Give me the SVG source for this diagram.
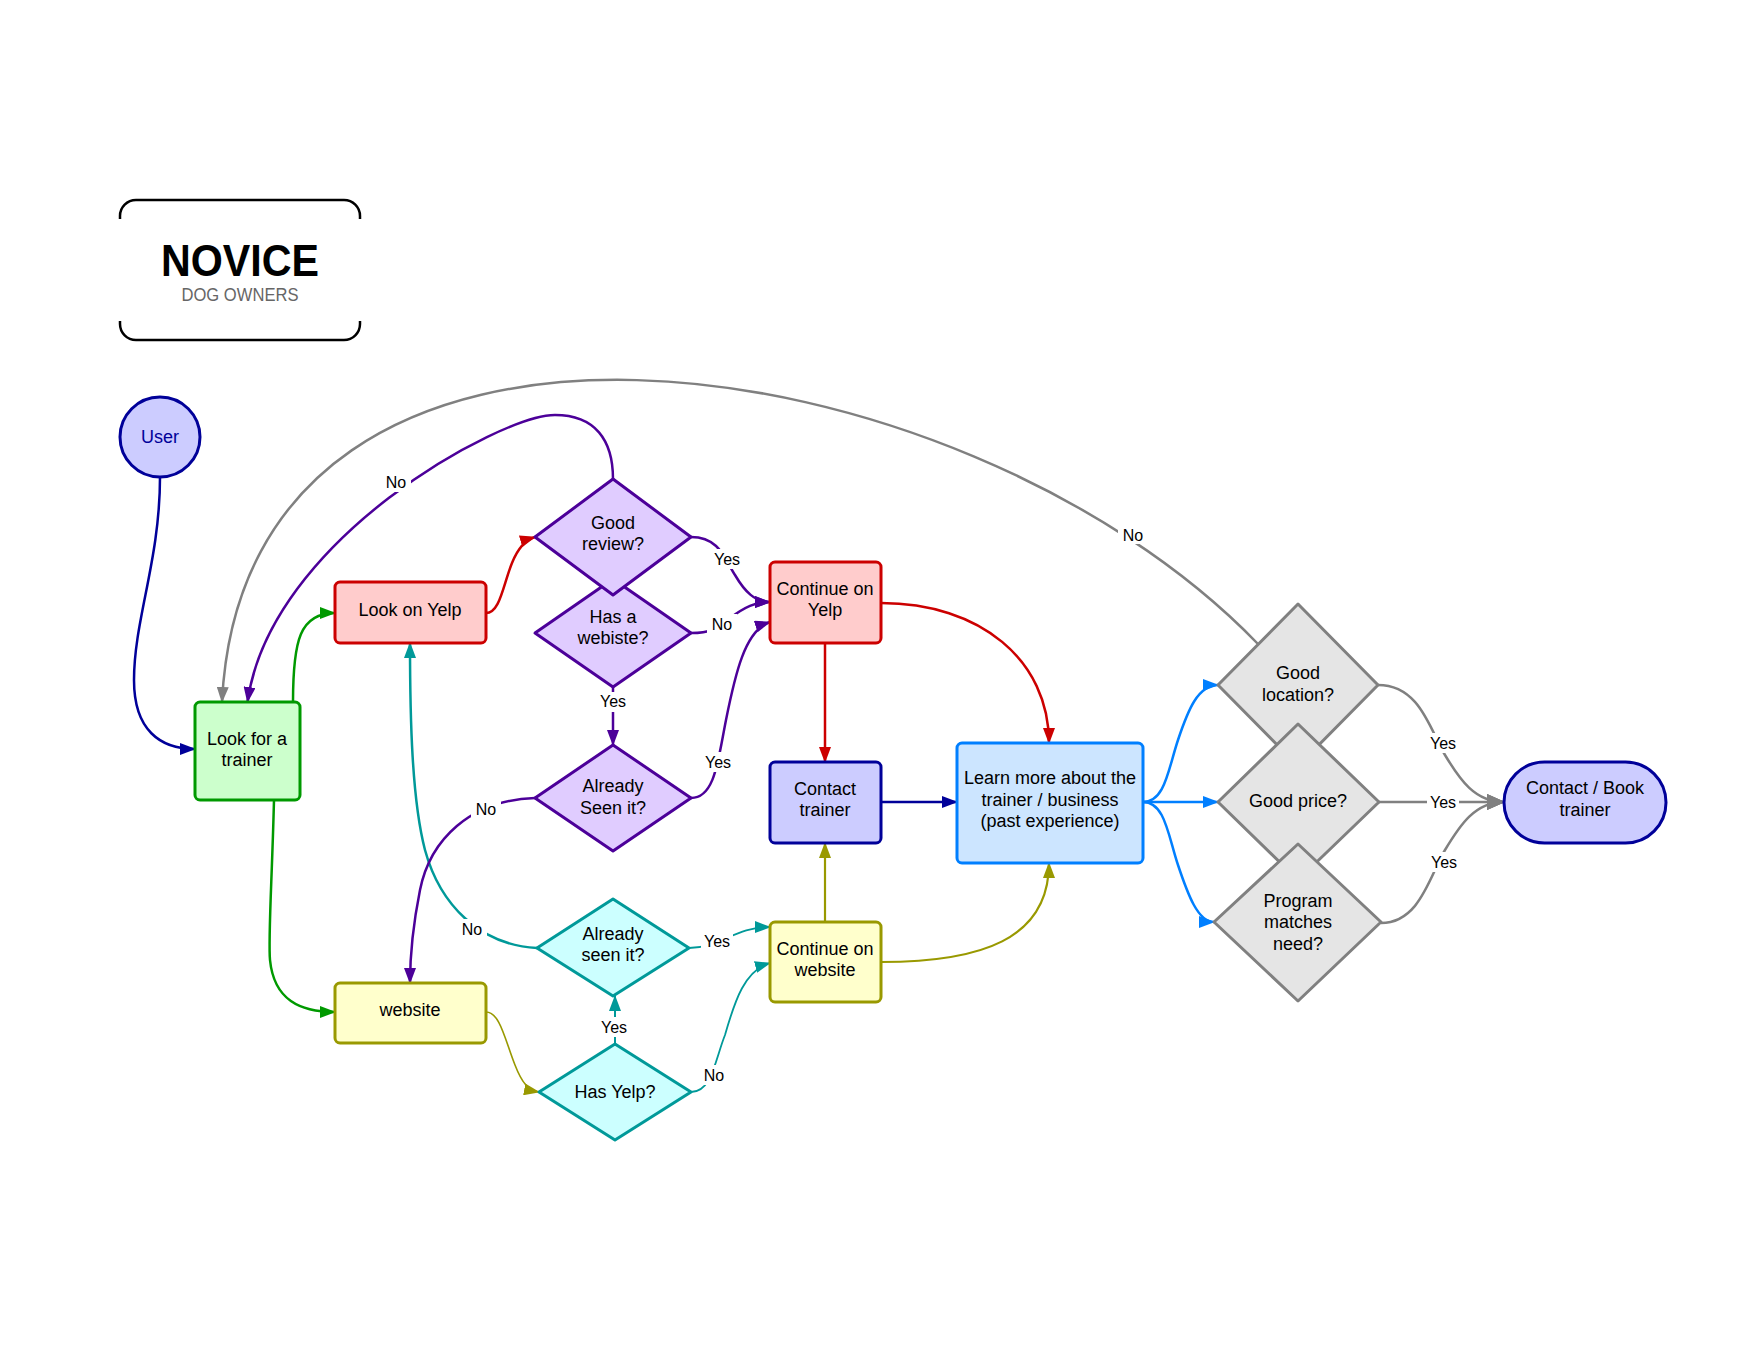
<svg xmlns="http://www.w3.org/2000/svg" width="1760" height="1360" viewBox="0 0 1760 1360">
<style>
text{font-family:"Liberation Sans",Arial,sans-serif;font-size:18px;fill:#000;text-anchor:middle}
.lbl{font-size:16px}
.node{stroke-width:3;stroke-linejoin:round}
.c{fill:none;stroke-width:2.5}
.bg{fill:#fff}
.pur{stroke:#4c0099}.red{stroke:#cc0000}.grn{stroke:#009900}.nav{stroke:#000099}
.tea{stroke:#009999}.oli{stroke:#999900}.blu{stroke:#007fff}.gry{stroke:#808080}
</style>
<defs>
<marker id="m-pur" markerUnits="userSpaceOnUse" markerWidth="16" markerHeight="12" refX="15" refY="6" orient="auto"><path d="M0,0L16,6L0,12z" fill="#4c0099"/></marker>
<marker id="m-red" markerUnits="userSpaceOnUse" markerWidth="16" markerHeight="12" refX="15" refY="6" orient="auto"><path d="M0,0L16,6L0,12z" fill="#cc0000"/></marker>
<marker id="m-grn" markerUnits="userSpaceOnUse" markerWidth="16" markerHeight="12" refX="15" refY="6" orient="auto"><path d="M0,0L16,6L0,12z" fill="#009900"/></marker>
<marker id="m-nav" markerUnits="userSpaceOnUse" markerWidth="16" markerHeight="12" refX="15" refY="6" orient="auto"><path d="M0,0L16,6L0,12z" fill="#000099"/></marker>
<marker id="m-tea" markerUnits="userSpaceOnUse" markerWidth="16" markerHeight="12" refX="15" refY="6" orient="auto"><path d="M0,0L16,6L0,12z" fill="#009999"/></marker>
<marker id="m-oli" markerUnits="userSpaceOnUse" markerWidth="16" markerHeight="12" refX="15" refY="6" orient="auto"><path d="M0,0L16,6L0,12z" fill="#999900"/></marker>
<marker id="m-blu" markerUnits="userSpaceOnUse" markerWidth="16" markerHeight="12" refX="15" refY="6" orient="auto"><path d="M0,0L16,6L0,12z" fill="#007fff"/></marker>
<marker id="m-gry" markerUnits="userSpaceOnUse" markerWidth="16" markerHeight="12" refX="15" refY="6" orient="auto"><path d="M0,0L16,6L0,12z" fill="#808080"/></marker>
<marker id="m-gryL" markerUnits="userSpaceOnUse" markerWidth="18" markerHeight="16" refX="17" refY="8" orient="auto"><path d="M0,0L18,8L0,16z" fill="#808080"/></marker>
</defs>
<rect width="1760" height="1360" fill="#fff"/>

<g id="title">
<path d="M120,219V216A16,16 0 0 1 136,200H344A16,16 0 0 1 360,216V219" fill="none" stroke="#000" stroke-width="2.5"/>
<path d="M120,321V324A16,16 0 0 0 136,340H344A16,16 0 0 0 360,324V321" fill="none" stroke="#000" stroke-width="2.5"/>
<text x="240" y="276" style="font-size:44px;font-weight:bold" textLength="158" lengthAdjust="spacingAndGlyphs">NOVICE</text>
<text x="240" y="301" style="font-size:18px;fill:#666" textLength="117" lengthAdjust="spacingAndGlyphs">DOG OWNERS</text>
</g>

<g id="connectors">
<path class="c gry" d="M1258,644C960,335 245,230 222,702" marker-end="url(#m-gry)"/>
<path class="c pur" d="M613,479C613,440 595,415 555,415C500,415 270,540 247.5,702" marker-end="url(#m-pur)"/>
<path class="c nav" d="M160,477C160,560 134,620 134,680C134,730 160,749 195,749" marker-end="url(#m-nav)"/>
<path class="c grn" d="M293,702C293,640 300,613 335,613" marker-end="url(#m-grn)"/>
<path class="c grn" d="M274,800C272,880 268,940 270,960C274,1000 300,1012 335,1012" marker-end="url(#m-grn)"/>
<path class="c tea" d="M537,948C480,945 440,905 425,850C412,800 410,720 410,643" marker-end="url(#m-tea)"/>
<path class="c pur" d="M535,798C470,800 430,840 420,890C412,930 410,960 410,983" marker-end="url(#m-pur)"/>
<path class="c oli" style="stroke-width:1.6" d="M486,1012C500,1012 505,1040 515,1065C522,1083 528,1090 539,1092" marker-end="url(#m-oli)"/>
<path class="c red" d="M486,613C500,613 503,585 512,563C518,548 525,540 535,537" marker-end="url(#m-red)"/>
<path class="c pur" d="M691,537C720,537 725,560 735,575C745,592 755,602 770,602" marker-end="url(#m-pur)"/>
<path class="c pur" d="M691,633C710,633 715,630 730,618C745,607 755,602 770,602" marker-end="url(#m-pur)"/>
<path class="c pur" d="M691,798C715,798 718,760 726,720C735,675 745,630 770,622" marker-end="url(#m-pur)"/>
<path class="c pur" d="M613,687V745" marker-end="url(#m-pur)"/>
<path class="c red" d="M825,643V762" marker-end="url(#m-red)"/>
<path class="c red" d="M881,603C980,603 1049,660 1049,743" marker-end="url(#m-red)"/>
<path class="c nav" d="M881,802H957" marker-end="url(#m-nav)"/>
<path class="c oli" style="stroke-width:2.2" d="M825,922V843" marker-end="url(#m-oli)"/>
<path class="c oli" style="stroke-width:2.2" d="M881,962C980,962 1049,940 1049,863" marker-end="url(#m-oli)"/>
<path class="c tea" style="stroke-width:1.8" d="M689,948C720,948 735,927 770,927" marker-end="url(#m-tea)"/>
<path class="c tea" style="stroke-width:1.8" d="M691,1092C712,1092 715,1060 725,1035C735,1000 745,970 770,963" marker-end="url(#m-tea)"/>
<path class="c tea" style="stroke-width:2" d="M615,1044V996" marker-end="url(#m-tea)"/>
<path class="c blu" d="M1143,802C1165,802 1168,770 1178,740C1188,710 1198,685 1218,685" marker-end="url(#m-blu)"/>
<path class="c blu" d="M1143,802H1218" marker-end="url(#m-blu)"/>
<path class="c blu" d="M1143,802C1165,802 1168,835 1178,865C1188,895 1198,922 1214,922" marker-end="url(#m-blu)"/>
<path class="c gry" d="M1378,685C1420,685 1430,730 1445,755C1460,780 1475,802 1504,802" marker-end="url(#m-gryL)"/>
<path class="c gry" d="M1379,802H1504" marker-end="url(#m-gryL)"/>
<path class="c gry" d="M1381,923C1420,923 1430,875 1445,850C1460,825 1475,802 1504,802" marker-end="url(#m-gryL)"/>
<g id="labels">
<rect class="bg" x="381" y="472" width="30" height="20"/><text class="lbl" x="396" y="488">No</text>
<rect class="bg" x="1118" y="524" width="30" height="20"/><text class="lbl" x="1133" y="541">No</text>
<rect class="bg" x="711" y="549" width="32" height="20"/><text class="lbl" x="727" y="565">Yes</text>
<rect class="bg" x="707" y="614" width="30" height="20"/><text class="lbl" x="722" y="630">No</text>
<rect class="bg" x="702" y="752" width="32" height="20"/><text class="lbl" x="718" y="768">Yes</text>
<rect class="bg" x="597" y="692" width="32" height="20"/><text class="lbl" x="613" y="707">Yes</text>
<rect class="bg" x="471" y="799" width="30" height="20"/><text class="lbl" x="486" y="815">No</text>
<rect class="bg" x="457" y="919" width="30" height="20"/><text class="lbl" x="472" y="935">No</text>
<rect class="bg" x="598" y="1017" width="32" height="20"/><text class="lbl" x="614" y="1033">Yes</text>
<rect class="bg" x="701" y="931" width="32" height="20"/><text class="lbl" x="717" y="947">Yes</text>
<rect class="bg" x="699" y="1065" width="30" height="20"/><text class="lbl" x="714" y="1081">No</text>
<rect class="bg" x="1427" y="733" width="32" height="20"/><text class="lbl" x="1443" y="749">Yes</text>
<rect class="bg" x="1427" y="792" width="32" height="20"/><text class="lbl" x="1443" y="808">Yes</text>
<rect class="bg" x="1428" y="852" width="32" height="20"/><text class="lbl" x="1444" y="868">Yes</text>
</g>
</g>

<g id="user"><circle class="node" cx="160" cy="437" r="40" fill="#ccccff" stroke="#000099"/><text x="160" y="443" style="fill:#000099">User</text></g>
<g id="look-trainer"><rect class="node" x="195" y="702" width="105" height="98" rx="5" fill="#ccffcc" stroke="#009900"/><text x="247" y="745">Look for a</text><text x="247" y="766">trainer</text></g>
<g id="look-yelp"><rect class="node" x="335" y="582" width="151" height="61" rx="5" fill="#ffcccc" stroke="#cc0000"/><text x="410" y="616">Look on Yelp</text></g>
<g id="website"><rect class="node" x="335" y="983" width="151" height="60" rx="5" fill="#ffffcc" stroke="#999900"/><text x="410" y="1016">website</text></g>
<g id="has-website"><polygon class="node" points="613,579 691,633 613,687 535,633" fill="#e0ccff" stroke="#4c0099"/><text x="613" y="623">Has a</text><text x="613" y="644">webiste?</text></g>
<g id="good-review"><polygon class="node" points="613,479 691,537 613,595 535,537" fill="#e0ccff" stroke="#4c0099"/><text x="613" y="529">Good</text><text x="613" y="550">review?</text></g>
<g id="already-seen-yelp"><polygon class="node" points="613,745 691,798 613,851 535,798" fill="#e0ccff" stroke="#4c0099"/><text x="613" y="792">Already</text><text x="613" y="814">Seen it?</text></g>
<g id="already-seen-web"><polygon class="node" points="613,899 689,948 613,996 537,948" fill="#ccffff" stroke="#009999"/><text x="613" y="940">Already</text><text x="613" y="961">seen it?</text></g>
<g id="has-yelp"><polygon class="node" points="615,1044 691,1092 615,1140 539,1092" fill="#ccffff" stroke="#009999"/><text x="615" y="1098">Has Yelp?</text></g>
<g id="continue-yelp"><rect class="node" x="770" y="562" width="111" height="81" rx="5" fill="#ffcccc" stroke="#cc0000"/><text x="825" y="595">Continue on</text><text x="825" y="616">Yelp</text></g>
<g id="contact-trainer"><rect class="node" x="770" y="762" width="111" height="81" rx="5" fill="#ccccff" stroke="#000099"/><text x="825" y="795">Contact</text><text x="825" y="816">trainer</text></g>
<g id="continue-website"><rect class="node" x="770" y="922" width="111" height="80" rx="5" fill="#ffffcc" stroke="#999900"/><text x="825" y="955">Continue on</text><text x="825" y="976">website</text></g>
<g id="learn-more"><rect class="node" x="957" y="743" width="186" height="120" rx="5" fill="#cce5ff" stroke="#007fff"/><text x="1050" y="784">Learn more about the</text><text x="1050" y="805.5">trainer / business</text><text x="1050" y="827">(past experience)</text></g>
<g id="good-location"><polygon class="node" points="1298,604 1378,685 1298,766 1218,685" fill="#e5e5e5" stroke="#808080"/><text x="1298" y="679">Good</text><text x="1298" y="701">location?</text></g>
<g id="good-price"><polygon class="node" points="1298,724 1379,802 1298,880 1218,802" fill="#e5e5e5" stroke="#808080"/><text x="1298" y="807">Good price?</text></g>
<g id="program-matches"><polygon class="node" points="1298,844 1381,922 1298,1001 1214,922" fill="#e5e5e5" stroke="#808080"/><text x="1298" y="907">Program</text><text x="1298" y="928">matches</text><text x="1298" y="950">need?</text></g>
<g id="contact-book"><rect class="node" x="1504" y="762" width="162" height="81" rx="40.5" fill="#ccccff" stroke="#000099"/><text x="1585" y="794">Contact / Book</text><text x="1585" y="816">trainer</text></g>
</svg>
